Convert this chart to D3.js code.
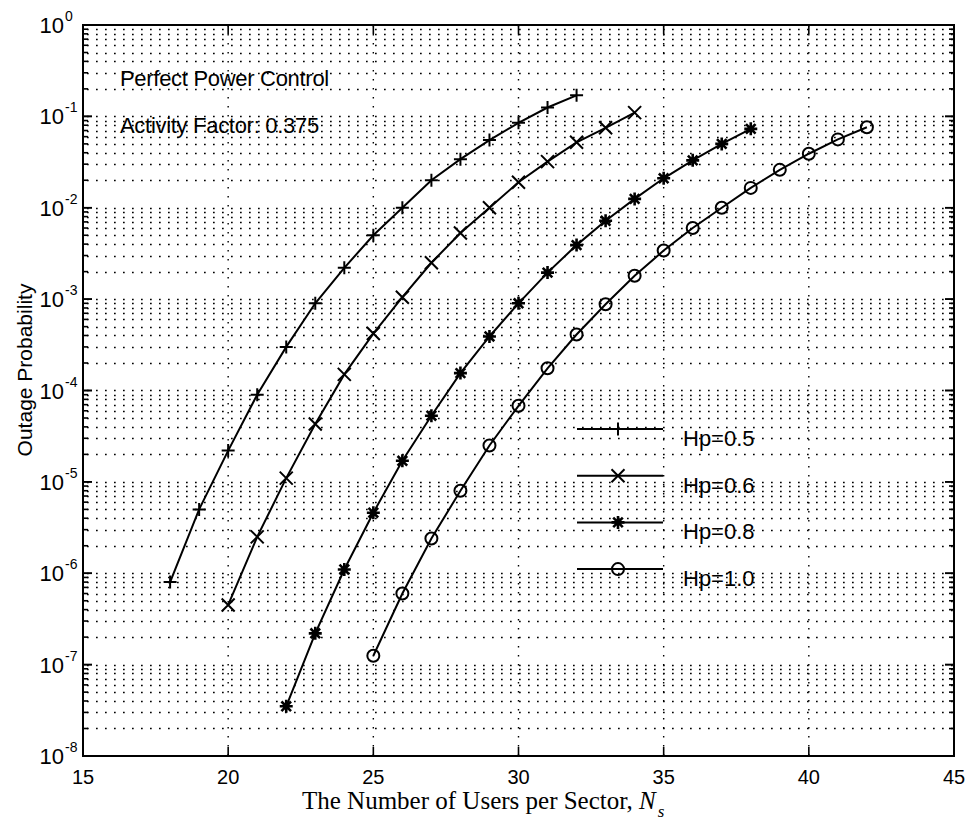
<!DOCTYPE html>
<html>
<head>
<meta charset="utf-8">
<script src="https://cdn.jsdelivr.net/npm/d3@7"></script>
<style>
  body { margin: 0; background: #fff; }
  svg { display: block; }
</style>
</head>
<body>
<svg id="chart"></svg>
<script>
// values
var users05 = [18,19,20,21,22,23,24,25,26,27,28,29,30,31,32];
var hp05 = [8e-7,5e-6,2.2e-5,9e-5,3e-4,9e-4,2.2e-3,5e-3,1e-2,2e-2,3.4e-2,5.5e-2,8.5e-2,1.25e-1,1.7e-1];

var users06 = [20,21,22,23,24,25,26,27,28,29,30,31,32,33,34];
var hp06 = [4.5e-7,2.5e-6,1.1e-5,4.3e-5,1.5e-4,4.2e-4,1.05e-3,2.5e-3,5.3e-3,1e-2,1.9e-2,3.2e-2,5.2e-2,7.5e-2,1.1e-1];

var users08 = [22,23,24,25,26,27,28,29,30,31,32,33,34,35,36,37,38];
var hp08 = [3.5e-8,2.2e-7,1.1e-6,4.6e-6,1.7e-5,5.3e-5,1.55e-4,3.9e-4,9e-4,1.95e-3,3.9e-3,7.2e-3,1.25e-2,2.1e-2,3.3e-2,5e-2,7.3e-2];

var users10 = [25,26,27,28,29,30,31,32,33,34,35,36,37,38,39,40,41,42];
var hp10 = [1.25e-7,6e-7,2.4e-6,8e-6,2.5e-5,6.8e-5,1.75e-4,4.1e-4,8.8e-4,1.8e-3,3.4e-3,6e-3,1e-2,1.65e-2,2.6e-2,3.9e-2,5.6e-2,7.6e-2];

var seriesNames = ["Hp=0.5", "Hp=0.6", "Hp=0.8", "Hp=1.0"];
var seriesMarkers = ["plus", "cross", "star", "circle"];
var xTicks = [15,20,25,30,35,40,45];
var yExponents = [0,-1,-2,-3,-4,-5,-6,-7,-8];
var notes = ["Perfect Power Control", "Activity Factor: 0.375"];

var width = 971, height = 824;
var pLeft = 83, pRight = 954, pTop = 25, pBottom = 756;

var svg = d3.select("#chart").attr("width", width).attr("height", height);

var x = d3.scaleLinear().domain([15,45]).range([pLeft,pRight]);
var y = d3.scaleLog().domain([1e-8,1]).range([pBottom,pTop]);

// dotted grid
var minorVals = [];
for (var e = -8; e < 0; e++) {
  for (var m = 1; m <= 9; m++) {
    if (e == -8 && m == 1) continue;
    minorVals.push(m * Math.pow(10, e));
  }
}
svg.append("g").selectAll("line")
  .data(minorVals)
  .enter().append("line")
  .attr("x1", pLeft + 4).attr("x2", pRight)
  .attr("y1", function(d){ return Math.round(y(d)) + 0.5; })
  .attr("y2", function(d){ return Math.round(y(d)) + 0.5; })
  .attr("stroke", "#000")
  .attr("stroke-width", 1.7)
  .attr("stroke-dasharray", "1.7,7.3");

svg.append("g").selectAll("line")
  .data(xTicks.slice(1, -1))
  .enter().append("line")
  .attr("x1", function(d){ return x(d); })
  .attr("x2", function(d){ return x(d); })
  .attr("y1", pTop).attr("y2", pBottom)
  .attr("stroke", "#000")
  .attr("stroke-width", 1.4)
  .attr("stroke-dasharray", "1.4,7.6");

// axes box with inward ticks
var axisG = svg.append("g").attr("fill", "none").attr("stroke", "#000");
axisG.append("rect")
  .attr("x", pLeft).attr("y", pTop)
  .attr("width", pRight - pLeft).attr("height", pBottom - pTop)
  .attr("stroke-width", 2);

xTicks.forEach(function(t){
  axisG.append("line").attr("x1", x(t)).attr("x2", x(t))
    .attr("y1", pBottom).attr("y2", pBottom - 9).attr("stroke-width", 1.6);
  axisG.append("line").attr("x1", x(t)).attr("x2", x(t))
    .attr("y1", pTop).attr("y2", pTop + 9).attr("stroke-width", 1.6);
});

var yTickVals = minorVals.concat(yExponents.map(function(p){ return Math.pow(10, p); }));
yTickVals.forEach(function(v){
  var major = Math.abs(Math.log10(v) - Math.round(Math.log10(v))) < 1e-9;
  var len = major ? 9 : 5;
  axisG.append("line").attr("x1", pLeft).attr("x2", pLeft + len)
    .attr("y1", y(v)).attr("y2", y(v)).attr("stroke-width", 1.6);
  axisG.append("line").attr("x1", pRight).attr("x2", pRight - len)
    .attr("y1", y(v)).attr("y2", y(v)).attr("stroke-width", 1.6);
});

// tick labels
svg.append("g").selectAll("text")
  .data(xTicks)
  .enter().append("text")
  .attr("x", function(d){ return x(d); })
  .attr("y", 784)
  .attr("text-anchor", "middle")
  .attr("font-family", "Liberation Sans, Arial, sans-serif")
  .attr("font-size", 20)
  .text(function(d){ return d; });

var yl = svg.append("g").attr("font-family", "Liberation Sans, Arial, sans-serif");
yExponents.forEach(function(p){
  var yy = y(Math.pow(10, p));
  yl.append("text").attr("x", 64).attr("y", yy + 8)
    .attr("text-anchor", "end").attr("font-size", 22).text("10");
  yl.append("text").attr("x", 65).attr("y", yy - 4)
    .attr("font-size", 14).text(p);
});

// axis titles
var xt = svg.append("text")
  .attr("x", 302).attr("y", 809)
  .attr("font-family", "Liberation Serif, Times New Roman, serif")
  .attr("font-size", 25);
xt.append("tspan").text("The Number of Users per Sector, ");
xt.append("tspan").attr("font-style", "italic").text("N");
xt.append("tspan").attr("font-style", "italic").attr("font-size", 17).attr("dy", 8).attr("dx", 2).text("s");

svg.append("text")
  .attr("transform", "translate(32,370) rotate(-90)")
  .attr("text-anchor", "middle")
  .attr("font-family", "Liberation Sans, Arial, sans-serif")
  .attr("font-size", 21)
  .text("Outage Probability");

// notes
svg.selectAll(".note")
  .data(notes)
  .enter().append("text")
  .attr("class", "note")
  .attr("x", 120)
  .attr("y", function(d, i){ return 86 + i * 47; })
  .attr("font-family", "Liberation Sans, Arial, sans-serif")
  .attr("font-size", 22)
  .attr("letter-spacing", -0.3)
  .text(function(d){ return d; });

// markers
function drawMarker(g, kind, cx, cy) {
  var s = 6.5;
  if (kind == "plus") {
    g.append("path").attr("d", "M" + (cx - s) + "," + cy + "H" + (cx + s) + "M" + cx + "," + (cy - s) + "V" + (cy + s))
      .attr("stroke", "#000").attr("stroke-width", 2).attr("fill", "none");
  } else if (kind == "cross") {
    g.append("path").attr("d", "M" + (cx - s) + "," + (cy - s) + "L" + (cx + s) + "," + (cy + s) + "M" + (cx - s) + "," + (cy + s) + "L" + (cx + s) + "," + (cy - s))
      .attr("stroke", "#000").attr("stroke-width", 2).attr("fill", "none");
  } else if (kind == "star") {
    var d = 4.8;
    g.append("path").attr("d", "M" + (cx - s) + "," + cy + "H" + (cx + s) + "M" + cx + "," + (cy - s) + "V" + (cy + s) +
        "M" + (cx - d) + "," + (cy - d) + "L" + (cx + d) + "," + (cy + d) + "M" + (cx - d) + "," + (cy + d) + "L" + (cx + d) + "," + (cy - d))
      .attr("stroke", "#000").attr("stroke-width", 2.6).attr("fill", "none");
  } else {
    g.append("circle").attr("cx", cx).attr("cy", cy).attr("r", 6)
      .attr("stroke", "#000").attr("stroke-width", 2).attr("fill", "none");
  }
}

var allUsers = [users05, users06, users08, users10];
var allVals = [hp05, hp06, hp08, hp10];
var line = d3.line()
  .x(function(d){ return x(d[0]); })
  .y(function(d){ return y(d[1]); });

allUsers.forEach(function(us, k){
  var pts = us.map(function(u, i){ return [u, allVals[k][i]]; });
  var g = svg.append("g");
  g.append("path").datum(pts).attr("d", line)
    .attr("fill", "none").attr("stroke", "#000").attr("stroke-width", 2);
  pts.forEach(function(p){ drawMarker(g, seriesMarkers[k], x(p[0]), y(p[1])); });
});

// legend
var lg = svg.append("g");
seriesNames.forEach(function(name, i){
  var ty = 438 + i * 46.7;
  var ly = ty - 9;
  lg.append("line").attr("x1", 577).attr("x2", 663).attr("y1", ly).attr("y2", ly)
    .attr("stroke", "#000").attr("stroke-width", 2);
  drawMarker(lg, seriesMarkers[i], 618, ly);
  lg.append("text").attr("x", 683).attr("y", ty + 8)
    .attr("font-family", "Liberation Sans, Arial, sans-serif")
    .attr("font-size", 22)
    .text(name);
});
</script>
</body>
</html>
